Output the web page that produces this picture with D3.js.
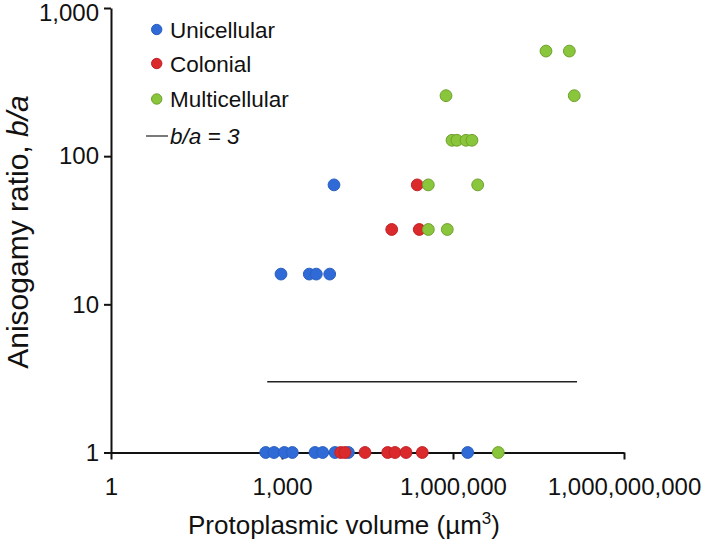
<!DOCTYPE html>
<html><head><meta charset="utf-8">
<script src="https://cdn.jsdelivr.net/npm/d3@7/dist/d3.min.js"></script>
<style>
body{margin:0;background:#fff;}
svg text{font-family:"Liberation Sans",Arial,Helvetica,sans-serif;fill:#111;}
</style></head>
<body>
<script>
// Data: protoplasmic volume (µm³) vs anisogamy ratio b/a
const unicellularX = [518, 724, 1097, 1516, 3790, 5176, 8510, 14600, 1810000, 960, 3010, 4000, 6870, 8170];
const unicellularY = [1, 1, 1, 1, 1, 1, 1, 1, 1, 16, 16, 16, 16, 64];
const colonialX = [10700, 12700, 28600, 71500, 96000, 150000, 289000, 84100, 256000, 236000];
const colonialY = [1, 1, 1, 1, 1, 1, 1, 32, 32, 64];
const multicellularX = [6230000, 369000, 794000, 369000, 2710000, 960000, 1170000, 1690000, 2150000, 754000, 134000000, 42800000, 110000000];
const multicellularY = [1, 32, 32, 64, 64, 128, 128, 128, 128, 256, 256, 512, 512];
const thresholdX = [550, 150000000];
const thresholdY = 3;
const xTicks = [1, 1e3, 1e6, 1e9];
const yTicks = [1, 10, 100, 1000];
const seriesNames = ["Unicellular", "Colonial", "Multicellular"];
const seriesColors = ["#2f6ad6", "#da2a2c", "#8ac63c"];
const seriesStroke = ["#2a5fc0", "#c22226", "#6fa02c"];

const W = 709, H = 546;
const svg = d3.select("body").append("svg").attr("width", W).attr("height", H);

const x = d3.scaleLog().domain([1, 1e9]).range([111, 624]);
const y = d3.scaleLog().domain([1, 1000]).range([452.5, 8]);
const fmt = d3.format(",");

// threshold line
svg.append("line")
  .attr("x1", x(thresholdX[0])).attr("x2", x(thresholdX[1]))
  .attr("y1", y(thresholdY)).attr("y2", y(thresholdY))
  .attr("stroke", "#222").attr("stroke-width", 1.5);

// axes
const xAxis = svg.append("g").attr("transform", `translate(0,${y(1)})`)
  .call(d3.axisBottom(x).tickValues(xTicks).tickFormat(fmt).tickSize(7).tickSizeOuter(0).tickPadding(18));
const yAxis = svg.append("g").attr("transform", `translate(${x(1)},0)`)
  .call(d3.axisLeft(y).tickValues(yTicks).tickFormat(fmt).tickSize(7).tickSizeOuter(0).tickPadding(5));
[xAxis, yAxis].forEach(g => {
  g.select(".domain").attr("stroke", "#111").attr("stroke-width", 2);
  g.selectAll(".tick line").attr("stroke", "#111").attr("stroke-width", 2);
  g.selectAll(".tick text").style("font-size", "24px").attr("fill", "#111");
});
yAxis.selectAll(".tick text").filter(d => d === 1000).attr("dy", "0.5em");

// points
const series = [
  {xs: unicellularX, ys: unicellularY},
  {xs: colonialX, ys: colonialY},
  {xs: multicellularX, ys: multicellularY}
];
series.forEach((s, i) => {
  svg.append("g").selectAll("circle")
    .data(s.xs.map((v, j) => [v, s.ys[j]]))
    .join("circle")
    .attr("cx", d => x(d[0])).attr("cy", d => y(d[1]))
    .attr("r", 5.9)
    .attr("fill", seriesColors[i])
    .attr("stroke", seriesStroke[i]).attr("stroke-width", 1);
});

// legend
const leg = svg.append("g");
seriesNames.forEach((n, i) => {
  const yy = [29.5, 63.5, 99][i];
  leg.append("circle").attr("cx", 156.7).attr("cy", yy).attr("r", 5.2)
    .attr("fill", seriesColors[i]).attr("stroke", seriesStroke[i]);
  leg.append("text").attr("x", 170).attr("y", yy).attr("dy", "0.36em")
    .style("font-size", "22.5px").text(n);
});
leg.append("line").attr("x1", 146).attr("x2", 168).attr("y1", 136).attr("y2", 136)
  .attr("stroke", "#222").attr("stroke-width", 1.2);
leg.append("text").attr("x", 170).attr("y", 136).attr("dy", "0.36em")
  .style("font-size", "22.5px").style("font-style", "italic").text("b/a = 3");

// axis titles
const xt = svg.append("text").attr("x", 344).attr("y", 534).attr("text-anchor", "middle")
  .style("font-size", "26px");
xt.append("tspan").text("Protoplasmic volume (µm");
xt.append("tspan").attr("dy", -10).style("font-size", "17px").text("3");
xt.append("tspan").attr("dy", 10).text(")");

const yt = svg.append("text").attr("transform", "translate(28,232) rotate(-90)")
  .attr("text-anchor", "middle").style("font-size", "30px");
yt.append("tspan").text("Anisogamy ratio, ");
yt.append("tspan").style("font-style", "italic").text("b/a");
</script>
</body></html>
